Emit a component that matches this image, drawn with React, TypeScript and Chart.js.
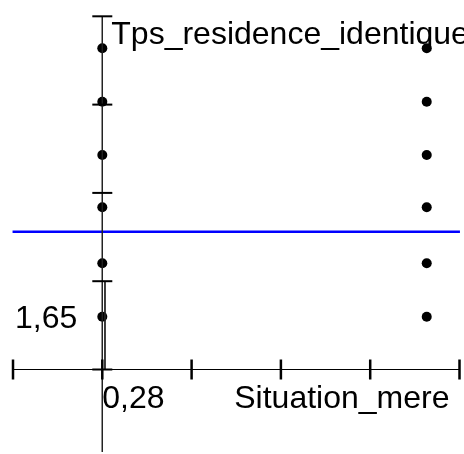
import React, { useEffect, useRef } from "react";
import { Chart, registerables } from "chart.js";

Chart.register(...registerables);

// Point coordinates (factor-style map)
const leftColX = [0, 0, 0, 0, 0, 0];
const rightColX = [3.633, 3.633, 3.633, 3.633, 3.633, 3.633];
const pointYs = [3.638, 3.033, 2.429, 1.837, 1.203, 0.598];

// Reference (blue) line
const refLineY = 1.561;
const refLineX = [-1.005, 4.005];

// Axes
const xAxisRange = [-1, 4];
const yAxisRange = [4, -0.934];
const secondLineX = 0.03;
const secondLineY = [1, 0];
const xTickValues = [-1, 0, 1, 2, 3, 4];
const yTickValues = [0, 1, 2, 3, 4];

const yAxisName = "Tps_residence_identique";
const xAxisName = "Situation_mere";
const yValueLabel = "1,65";
const xValueLabel = "0,28";

const FONT = "32px 'Liberation Sans', Arial, sans-serif";

export default function App() {
  const ref = useRef<HTMLCanvasElement | null>(null);

  useEffect(() => {
    if (!ref.current) return;
    const points = [
      ...leftColX.map((x, i) => ({ x, y: pointYs[i] })),
      ...rightColX.map((x, i) => ({ x, y: pointYs[i] })),
    ];

    const axisPlugin = {
      id: "axisDecor",
      afterDatasetsDraw(chart: any) {
        const ctx = chart.ctx;
        const xs = chart.scales.x;
        const ys = chart.scales.y;
        const x0 = xs.getPixelForValue(0);
        const y0 = ys.getPixelForValue(0);
        ctx.save();
        ctx.strokeStyle = "#000";
        ctx.lineWidth = 2.5;
        xTickValues.forEach((v) => {
          const px = xs.getPixelForValue(v);
          ctx.beginPath();
          ctx.moveTo(px, y0 - 10);
          ctx.lineTo(px, y0 + 10);
          ctx.stroke();
        });
        ctx.lineWidth = 2;
        yTickValues.forEach((v) => {
          const py = ys.getPixelForValue(v);
          ctx.beginPath();
          ctx.moveTo(x0 - 10, py);
          ctx.lineTo(x0 + 10, py);
          ctx.stroke();
        });
        ctx.fillStyle = "#000";
        ctx.font = FONT;
        ctx.textBaseline = "alphabetic";
        ctx.textAlign = "left";
        ctx.fillText(yAxisName, x0 + 9, ys.getPixelForValue(4) + 28);
        ctx.fillText(xValueLabel, x0 + 0, y0 + 38.5);
        ctx.textAlign = "right";
        ctx.fillText(yValueLabel, x0 - 25, y0 - 41.5);
        ctx.fillText(xAxisName, xs.getPixelForValue(4) - 10, y0 + 38);
        ctx.restore();
      },
    };

    const chart = new Chart(ref.current, {
      type: "scatter",
      data: {
        datasets: [
          {
            data: [
              { x: xAxisRange[0], y: 0 },
              { x: xAxisRange[1], y: 0 },
            ],
            showLine: true,
            borderColor: "#000",
            borderWidth: 1,
            pointRadius: 0,
            clip: false,
          } as any,
          {
            data: [
              { x: 0, y: yAxisRange[0] },
              { x: 0, y: yAxisRange[1] },
            ],
            showLine: true,
            borderColor: "#222",
            borderWidth: 1,
            pointRadius: 0,
            clip: false,
          },
          {
            data: [
              { x: secondLineX, y: secondLineY[0] },
              { x: secondLineX, y: secondLineY[1] },
            ],
            showLine: true,
            borderColor: "#222",
            borderWidth: 1,
            pointRadius: 0,
            clip: false,
          },
          {
            data: [
              { x: refLineX[0], y: refLineY },
              { x: refLineX[1], y: refLineY },
            ],
            showLine: true,
            borderColor: "#0000ff",
            borderWidth: 2.5,
            pointRadius: 0,
            clip: false,
          },
          {
            data: points,
            backgroundColor: "#000",
            borderColor: "#000",
            borderWidth: 0,
            pointRadius: 5,
            clip: false,
          },
        ],
      },
      options: {
        animation: false,
        responsive: false,
        devicePixelRatio: 1,
        layout: { padding: 0 },
        plugins: { legend: { display: false }, tooltip: { enabled: false } },
        scales: {
          x: { type: "linear", display: false, min: -1.0896, max: 3.9944 },
          y: { type: "linear", display: false, min: -0.9003, max: 4.128 },
        },
      },
      plugins: [axisPlugin],
    });
    return () => chart.destroy();
  }, []);

  return (
    <div style={{ position: "absolute", left: 0, top: 0, width: 464, height: 454, background: "#fff" }}>
      <canvas ref={ref} width={464} height={454} />
    </div>
  );
}
